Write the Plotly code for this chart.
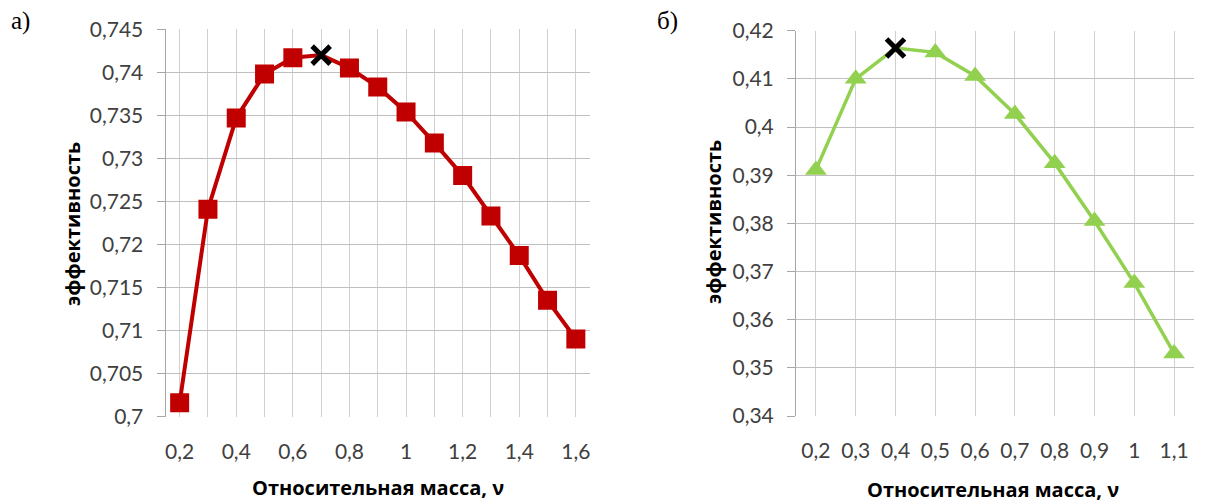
import plotly.graph_objects as go

W, H = 1205, 504

# ---------------- Panel а) ----------------
a_nu = [0.2, 0.3, 0.4, 0.5, 0.6, 0.7, 0.8, 0.9, 1.0, 1.1, 1.2, 1.3, 1.4, 1.5, 1.6]
a_eff = [0.7016, 0.7241, 0.7347, 0.7398, 0.7417, 0.7420, 0.7405, 0.7383,
         0.7354, 0.7318, 0.7280, 0.7233, 0.7187, 0.7135, 0.7090]
a_peak_index = 5
a_xtick_labels = ["0,2", "", "0,4", "", "0,6", "", "0,8", "", "1", "", "1,2", "", "1,4", "", "1,6"]
a_ytick_vals = [0.7, 0.705, 0.71, 0.715, 0.72, 0.725, 0.73, 0.735, 0.74, 0.745]
a_ytick_labels = ["0,7", "0,705", "0,71", "0,715", "0,72", "0,725", "0,73", "0,735", "0,74", "0,745"]

# ---------------- Panel б) ----------------
b_nu = [0.2, 0.3, 0.4, 0.5, 0.6, 0.7, 0.8, 0.9, 1.0, 1.1]
b_eff = [0.3911, 0.4100, 0.4164, 0.4155, 0.4106, 0.4027, 0.3925, 0.3805, 0.3676, 0.3530]
b_peak_index = 2
b_xtick_labels = ["0,2", "0,3", "0,4", "0,5", "0,6", "0,7", "0,8", "0,9", "1", "1,1"]
b_ytick_vals = [0.34, 0.35, 0.36, 0.37, 0.38, 0.39, 0.40, 0.41, 0.42]
b_ytick_labels = ["0,34", "0,35", "0,36", "0,37", "0,38", "0,39", "0,4", "0,41", "0,42"]

y_title = "эффективность"
x_title = "Относительная масса, ν"

RED = "#C00000"
GREEN = "#92D050"
GRID_H = "#BFBFBF"
GRID_V = "#D0D0D0"
AXIS = "#A6A6A6"
TICKCOL = "#404040"
FONT = "Lato, 'Open Sans', sans-serif"
TFONT = "'Open Sans', Lato, sans-serif"


def marker_spec(n, peak, sym, color, size):
    symbols = [("x-thin" if i == peak else sym) for i in range(n)]
    sizes = [(18 if i == peak else size) for i in range(n)]
    colors = [("black" if i == peak else color) for i in range(n)]
    lw = [(5 if i == peak else 0) for i in range(n)]
    return dict(symbol=symbols, size=sizes, color=colors, opacity=1,
                line=dict(color=colors, width=lw))


fig = go.Figure()
fig.add_trace(go.Scatter(
    x=a_nu, y=a_eff, mode="lines+markers", xaxis="x", yaxis="y",
    line=dict(color=RED, width=4),
    marker=marker_spec(len(a_nu), a_peak_index, "square", RED, 19),
    showlegend=False,
))
fig.add_trace(go.Scatter(
    x=b_nu, y=b_eff, mode="lines+markers", xaxis="x2", yaxis="y2",
    line=dict(color=GREEN, width=3.5),
    marker=marker_spec(len(b_nu), b_peak_index, "triangle-up", GREEN, 19),
    showlegend=False,
))


def px_x(p):
    return p / W


def px_y(p):
    return (H - p) / H


common_x = dict(showgrid=True, gridcolor=GRID_V, gridwidth=1, zeroline=False,
                showline=False, ticks="", tickfont=dict(family=FONT, size=21, color=TICKCOL),
                tickmode="array", ticklabelstandoff=20, fixedrange=True, automargin=False)
common_y = dict(showgrid=True, gridcolor=GRID_H, gridwidth=1, zeroline=False,
                showline=True, linecolor=AXIS, linewidth=1, ticks="outside",
                ticklen=8, tickcolor=AXIS, tickwidth=1,
                tickfont=dict(family=FONT, size=21, color=TICKCOL),
                tickmode="array", ticklabelstandoff=9, fixedrange=True, automargin=False)

fig.update_layout(
    width=W, height=H, margin=dict(l=0, r=0, t=0, b=0, pad=0),
    paper_bgcolor="white", plot_bgcolor="white",
    xaxis=dict(common_x, domain=[px_x(165.5), px_x(590)], anchor="y",
               range=[0.15, 1.65], tickvals=a_nu, ticktext=a_xtick_labels),
    yaxis=dict(common_y, domain=[px_y(416.5), px_y(29.3)], anchor="x",
               range=[0.7 - 1e-6, 0.745 + 1e-6], tickvals=a_ytick_vals, ticktext=a_ytick_labels),
    xaxis2=dict(common_x, domain=[px_x(796), px_x(1194)], anchor="y2",
                range=[0.15, 1.15], tickvals=b_nu, ticktext=b_xtick_labels),
    yaxis2=dict(common_y, domain=[px_y(416), px_y(30.7)], anchor="x2",
                range=[0.34 - 1e-6, 0.42 + 1e-6], tickvals=b_ytick_vals, ticktext=b_ytick_labels),
    annotations=[
        dict(text="а)", x=px_x(9), y=px_y(21), xref="paper", yref="paper",
             xanchor="left", yanchor="middle", showarrow=False,
             font=dict(family="'Liberation Serif', serif", size=25, color="black")),
        dict(text="б)", x=px_x(655), y=px_y(21), xref="paper", yref="paper",
             xanchor="left", yanchor="middle", showarrow=False,
             font=dict(family="'Liberation Serif', serif", size=25, color="black")),
        dict(text="<b>" + y_title + "</b>", x=px_x(72), y=px_y(224), xref="paper", yref="paper",
             xanchor="center", yanchor="middle", showarrow=False, textangle=-90,
             font=dict(family=TFONT, size=20, color="black")),
        dict(text="<b>" + y_title + "</b>", x=px_x(713), y=px_y(222), xref="paper", yref="paper",
             xanchor="center", yanchor="middle", showarrow=False, textangle=-90,
             font=dict(family=TFONT, size=20, color="black")),
        dict(text="<b>" + x_title + "</b>", x=px_x(378), y=px_y(487), xref="paper", yref="paper",
             xanchor="center", yanchor="middle", showarrow=False,
             font=dict(family=TFONT, size=20, color="black")),
        dict(text="<b>" + x_title + "</b>", x=px_x(993), y=px_y(489), xref="paper", yref="paper",
             xanchor="center", yanchor="middle", showarrow=False,
             font=dict(family=TFONT, size=20, color="black")),
    ],
)

fig.write_html("out.html")
